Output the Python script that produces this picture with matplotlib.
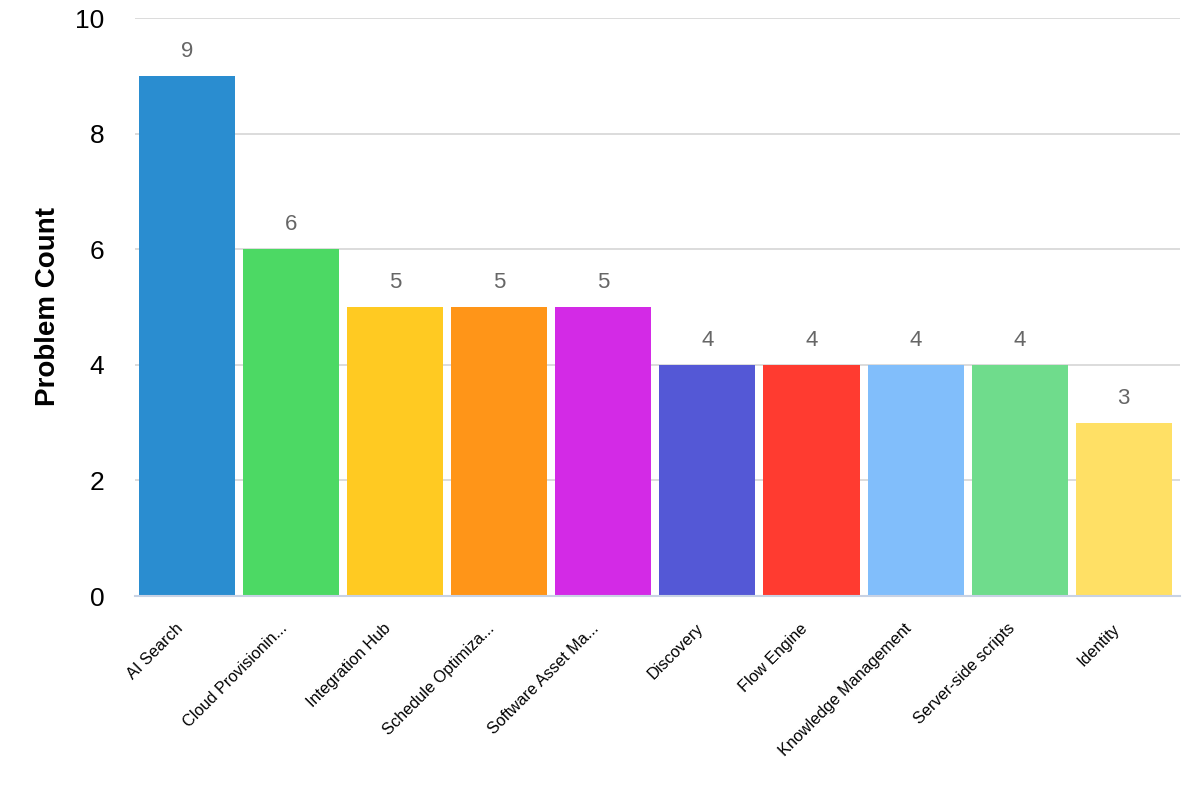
import matplotlib.pyplot as plt
import matplotlib.transforms as mtransforms
import numpy as np

plt.rcParams['font.family'] = ['Liberation Sans', 'DejaVu Sans']

categories = ['AI Search', 'Cloud Provisionin...', 'Integration Hub', 'Schedule Optimiza...',
              'Software Asset Ma...', 'Discovery', 'Flow Engine', 'Knowledge Management',
              'Server-side scripts', 'Identity']
counts = [9, 6, 5, 5, 5, 4, 4, 4, 4, 3]
colors = ['#2a8dd0', '#4cd964', '#ffca22', '#ff9518', '#d32ae6',
          '#5458d6', '#ff3b30', '#81befb', '#6fdc8c', '#ffe065']

fig = plt.figure(figsize=(12, 8), dpi=100)
ax = fig.add_axes([0.1125, 0.255, 0.8708, 0.7225])

x = np.arange(len(categories))
bars = ax.bar(x, counts, width=0.923, color=colors, zorder=2)

for xi, v in zip(x, counts):
    ax.text(xi, v + 0.24, str(v), ha='center', va='bottom', fontsize=16, color='#666666')

ax.set_xlim(-0.5, len(categories) - 0.46)
ax.set_ylim(0, 10)
ax.set_yticks([0, 2, 4, 6, 8, 10])
ax.tick_params(axis='y', length=0, labelsize=19, pad=22)
ax.grid(axis='y', color='#d5d5d5', linewidth=1.2, zorder=0)

ax.set_xticks(x)
ax.set_xticklabels(categories, rotation=45, ha='right', va='top',
                   rotation_mode='anchor', fontsize=11.7)
ax.tick_params(axis='x', length=0, pad=18)
shift = mtransforms.ScaledTranslation(-12 / 100, 0, fig.dpi_scale_trans)
for lab in ax.get_xticklabels():
    lab.set_transform(lab.get_transform() + shift)

for side in ['top', 'right', 'left']:
    ax.spines[side].set_visible(False)
ax.spines['bottom'].set_color('#c8d2e4')
ax.spines['bottom'].set_linewidth(1.5)

ax.set_ylabel('Problem Count', fontsize=20, fontweight='bold', labelpad=10)

fig.savefig('out.png', dpi=100)
